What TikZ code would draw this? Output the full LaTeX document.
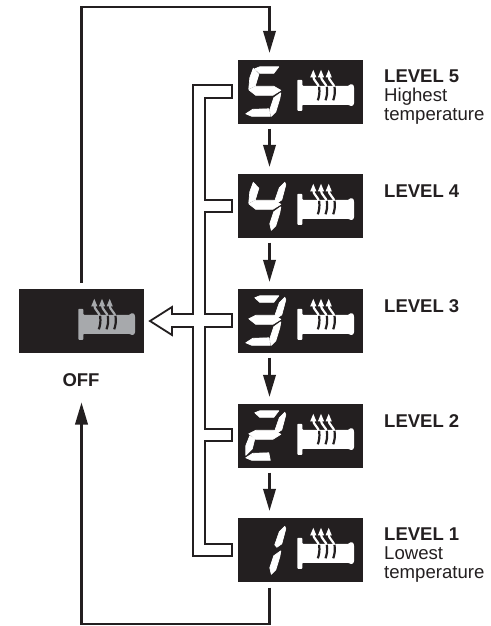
\documentclass[tikz,border=0pt]{standalone}
\usepackage{fontspec}
\setmainfont{Liberation Sans}
\usetikzlibrary{arrows.meta}
\definecolor{ink}{HTML}{231F20}
\definecolor{offgrey}{HTML}{A7A9AC}
\tikzset{
  panelbox/.style={fill=ink,draw=none,minimum width=125pt,minimum height=63.5pt,inner sep=0pt},
  flow/.style={draw=ink,line width=2.2pt,-{Triangle[length=22pt,width=12.5pt]}},
  lvl/.style={anchor=base west,inner sep=0pt,font=\fontsize{18.5}{20}\selectfont\bfseries,text=ink},
  lvltxt/.style={anchor=base west,inner sep=0pt,font=\fontsize{18.6}{20}\selectfont,text=ink},
  seg/.style={fill=white,draw=white,line width=0.7pt,line join=round},
}
\newcommand\segA{\path[seg] (17,9)--(22,7)--(41,7)--(36,13.5)--(22,13.5)--cycle;}
\newcommand\segB{\path[seg] (47,8.5)--(41.5,14)--(37,27)--(39,29.5)--(44,26)--(48,11)--cycle;}
\newcommand\segC{\path[seg] (43,33)--(36,38)--(32,50)--(33.5,56.5)--(38,52)--(42,39)--cycle;}
\newcommand\segD{\path[seg] (8,54)--(15,49.5)--(31,49)--(32.5,56.5)--(14,56.5)--cycle;}
\newcommand\segE{\path[seg] (12,32)--(17,35)--(14.5,45)--(8,51.5)--(8,42)--cycle;}
\newcommand\segF{\path[seg] (15.5,8.5)--(21,14.5)--(17.5,26)--(11,29)--(12,18)--cycle;}
\newcommand\segG{\path[seg] (11,30)--(18,26.5)--(36,26.5)--(43,30.5)--(35,35.5)--(18,35.5)--cycle;}
\newcommand\gripicon[1]{%
  \fill[#1,rounded corners=0.8pt] (59.5,20)--(64.5,20)--(64.5,26)--(111,26)--(112,24.5)--(115,24.5)--(116.2,27)--(116.2,44)--(115,46)--(112,46)--(111,45)--(64.5,45)--(64.5,51)--(59.5,51)--cycle;
  \foreach \dx in {0,7.7,15.4}{
    \begin{scope}[xshift=\dx pt]
      \fill[#1] (75.5,10)--(78.6,17.5)--(72.4,17.5)--cycle;
      \draw[#1,line width=2.2pt] (75.5,16) .. controls (75,21) and (81,23) .. (81.5,29);
      \draw[ink,line width=2.2pt] (81.3,27) .. controls (82.2,33) and (81.2,37) .. (80,40.5);
    \end{scope}
  }
}
\newcommand\showdigit[2]{%
  \begin{scope}[shift={(#1.north west)}]
    \foreach \s in {#2}{\csname seg\s\endcsname}
    \gripicon{white}
  \end{scope}
}
\begin{document}
\begin{tikzpicture}[x=1pt,y=-1pt]
\useasboundingbox (0,0) rectangle (490,626);
\node[panelbox] (p5) at (300.5,91.75) {};
\node[panelbox] (p4) at (300.5,205.75) {};
\node[panelbox] (p3) at (300.5,320.75) {};
\node[panelbox] (p2) at (300.5,435.75) {};
\node[panelbox] (p1) at (300.5,549.75) {};
\node[panelbox] (off) at (81.5,320.75) {};
\showdigit{p5}{A,F,G,C,D}
\showdigit{p4}{F,G,B,C}
\showdigit{p3}{A,B,G,C,D}
\showdigit{p2}{A,B,G,E,D}
\showdigit{p1}{B,C}
\begin{scope}[shift={(off.north west)}]
  \gripicon{offgrey}
\end{scope}
% level connectors
\draw[flow] ([xshift=-31pt,yshift=-5pt]p5.south) -- ([xshift=-31pt,yshift=7pt]p4.north);
\draw[flow] ([xshift=-31pt,yshift=-5pt]p4.south) -- ([xshift=-31pt,yshift=7pt]p3.north);
\draw[flow] ([xshift=-31pt,yshift=-5pt]p3.south) -- ([xshift=-31pt,yshift=7pt]p2.north);
\draw[flow] ([xshift=-31pt,yshift=-5pt]p2.south) -- ([xshift=-31pt,yshift=7pt]p1.north);
% outer loops
\coordinate (topY) at (0,7);
\coordinate (botY) at (0,624);
\draw[flow] ([yshift=6pt]off.north) -- (off.north |- topY) -- ([xshift=-31pt]p5.north |- topY) -- ([xshift=-31pt,yshift=7pt]p5.north);
\node[lvl,anchor=base] (offlabel) at (81,386.7) {OFF};
\coordinate (offtip) at (81,402.5);
\draw[flow] ([xshift=-31pt,yshift=-6pt]p1.south) -- ([xshift=-31pt]p1.south |- botY) -- (off.south |- botY) -- (off.south |- offtip);
% return bracket with hollow arrow
\draw[draw=ink,line width=1.8pt,fill=white,line join=miter]
  (232,85)--(193,85)--(193,314)--(172,314)--(172,307)--(150,321)--(172,335)--(172,327)--(193,327)
  --(193,556)--(232,556)--(232,544)--(205,544)--(205,441)--(232,441)--(232,429)--(205,429)
  --(205,327)--(232,327)--(232,314)--(205,314)--(205,212)--(232,212)--(232,200)--(205,200)
  --(205,98)--(232,98)--cycle;
% labels
\node[lvl] (l5) at (384,82.7) {LEVEL 5};
\node[lvltxt] (l5a) at (384,101.5) {Highest};
\node[lvltxt] (l5b) at (384,120.3) {temperature};
\node[lvl] (l4) at (384,197) {LEVEL 4};
\node[lvl] (l3) at (384,312) {LEVEL 3};
\node[lvl] (l2) at (384,427) {LEVEL 2};
\node[lvl] (l1) at (384,540.5) {LEVEL 1};
\node[lvltxt] (l1a) at (384,559.3) {Lowest};
\node[lvltxt] (l1b) at (384,578) {temperature};
\end{tikzpicture}
\end{document}
